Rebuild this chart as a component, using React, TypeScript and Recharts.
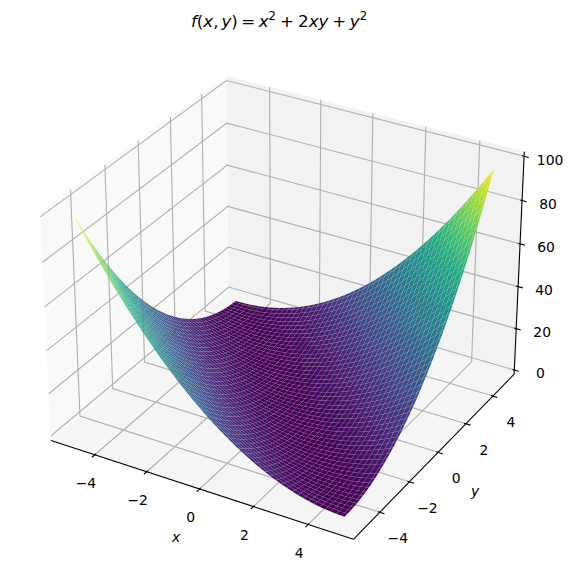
import { ScatterChart, Scatter, XAxis, YAxis } from "recharts";

// sample positions along both horizontal axes
const gridValues = [
  -5, -4.8, -4.6, -4.4, -4.2, -4, -3.8, -3.6, -3.4, -3.2, -3, -2.8, -2.6, -2.4, -2.2, -2, -1.8,
  -1.6, -1.4, -1.2, -1, -0.8, -0.6, -0.4, -0.2, 0, 0.2, 0.4, 0.6, 0.8, 1, 1.2, 1.4, 1.6, 1.8, 2,
  2.2, 2.4, 2.6, 2.8, 3, 3.2, 3.4, 3.6, 3.8, 4, 4.2, 4.4, 4.6, 4.8, 4.9,
];
// surface height for a grid step sum i + j (the surface only changes across the x + y diagonal)
const heightProfile = [
  100, 96.04, 92.16, 88.36, 84.64, 81, 77.44, 73.96, 70.56, 67.24, 64, 60.84, 57.76, 54.76, 51.84,
  49, 46.24, 43.56, 40.96, 38.44, 36, 33.64, 31.36, 29.16, 27.04, 25, 23.04, 21.16, 19.36, 17.64,
  16, 14.44, 12.96, 11.56, 10.24, 9, 7.84, 6.76, 5.76, 4.84, 4, 3.24, 2.56, 1.96, 1.44, 1, 0.64,
  0.36, 0.16, 0.04, 0, 0.04, 0.16, 0.36, 0.64, 1, 1.44, 1.96, 2.56, 3.24, 4, 4.84, 5.76, 6.76,
  7.84, 9, 10.24, 11.56, 12.96, 14.44, 16, 17.64, 19.36, 21.16, 23.04, 25, 27.04, 29.16, 31.36,
  33.64, 36, 38.44, 40.96, 43.56, 46.24, 49, 51.84, 54.76, 57.76, 60.84, 64, 67.24, 70.56, 73.96,
  77.44, 81, 84.64, 88.36, 92.16,
];
// heights along the last row and column, where the grid ends at 4.9
const edgeHeights = [
  0.01, 0.01, 0.09, 0.25, 0.49, 0.81, 1.21, 1.69, 2.25, 2.89, 3.61, 4.41, 5.29, 6.25, 7.29, 8.41,
  9.61, 10.89, 12.25, 13.69, 15.21, 16.81, 18.49, 20.25, 22.09, 24.01, 26.01, 28.09, 30.25, 32.49,
  34.81, 37.21, 39.69, 42.25, 44.89, 47.61, 50.41, 53.29, 56.25, 59.29, 62.41, 65.61, 68.89, 72.25,
  75.69, 79.21, 82.81, 86.49, 90.25, 94.09, 96.04,
];
const xTicks = [-4, -2, 0, 2, 4];
const yTicks = [-4, -2, 0, 2, 4];
const zTicks = [0, 20, 40, 60, 80, 100];
const xLimits = [-5.722, 5.622];
const yLimits = [-5.722, 5.622];
const zLimits = [-2.083, 102.083];
const viridis = [
  [68, 1, 84], [72, 36, 117], [65, 68, 135], [53, 95, 141], [42, 120, 142], [33, 145, 140],
  [34, 168, 132], [68, 191, 112], [122, 209, 81], [189, 223, 38], [253, 231, 37],
];

const FONT = "'DejaVu Sans', sans-serif";
const WIDTH = 574;
const HEIGHT = 584;
const ELEV = (30 * Math.PI) / 180;
const AZIM = (-60 * Math.PI) / 180;
const DIST = 10;
const BOX = [1.1905, 1.1905, 0.8929];
// where the box corners sit in the picture
const BOX_LEFT = 40;
const BOX_RIGHT = 524.3;
const BOX_TOP = 76;
const BOX_BOTTOM = 539.3;

type V3 = number[];
const sub = (a: V3, b: V3) => a.map((v, i) => v - b[i]);
const dot = (a: V3, b: V3) => a[0] * b[0] + a[1] * b[1] + a[2] * b[2];
const cross = (a: V3, b: V3) => [
  a[1] * b[2] - a[2] * b[1],
  a[2] * b[0] - a[0] * b[2],
  a[0] * b[1] - a[1] * b[0],
];
const unit = (a: V3) => {
  const n = Math.sqrt(dot(a, a));
  return a.map((v) => v / n);
};

const center = BOX.map((b) => b / 2);
const viewDir = [Math.cos(ELEV) * Math.cos(AZIM), Math.cos(ELEV) * Math.sin(AZIM), Math.sin(ELEV)];
const eye = center.map((c, i) => c + DIST * viewDir[i]);
const w = unit(viewDir);
const u = unit(cross([0, 0, 1], w));
const v = cross(w, u);

// same camera as a default 3D axes: elev 30, azim -60, box 4:4:3
function project(x: number, y: number, z: number) {
  const p = [
    ((x - xLimits[0]) / (xLimits[1] - xLimits[0])) * BOX[0],
    ((y - yLimits[0]) / (yLimits[1] - yLimits[0])) * BOX[1],
    ((z - zLimits[0]) / (zLimits[1] - zLimits[0])) * BOX[2],
  ];
  const d = sub(p, eye);
  const depth = dot(w, d);
  return { px: dot(u, d) / -depth, py: dot(v, d) / -depth, depth };
}

const [x0, x1] = xLimits;
const [y0, y1] = yLimits;
const [z0, z1] = zLimits;

const corners = [x0, x1].flatMap((x) => [y0, y1].flatMap((y) => [z0, z1].map((z) => project(x, y, z))));
const pxMin = Math.min(...corners.map((c) => c.px));
const pxMax = Math.max(...corners.map((c) => c.px));
const pyMin = Math.min(...corners.map((c) => c.py));
const pyMax = Math.max(...corners.map((c) => c.py));
// plot area is the whole picture, so the domain runs past the box
const perPixelX = (pxMax - pxMin) / (BOX_RIGHT - BOX_LEFT);
const perPixelY = (pyMax - pyMin) / (BOX_BOTTOM - BOX_TOP);
const pxDomain = [pxMin - BOX_LEFT * perPixelX, pxMax + (WIDTH - BOX_RIGHT) * perPixelX];
const pyDomain = [pyMin - (HEIGHT - BOX_BOTTOM) * perPixelY, pyMax + BOX_TOP * perPixelY];

// surface vertices and cells, cells sorted far to near
const n = gridValues.length;
const last = n - 1;
const heightAt = (i: number, j: number) =>
  i === last ? edgeHeights[j] : j === last ? edgeHeights[i] : heightProfile[i + j];
const vertices = gridValues.flatMap((x, i) =>
  gridValues.map((y, j) => ({ ...project(x, y, heightAt(i, j)), z: heightAt(i, j) }))
);
const rawCells: { ids: number[]; avg: number; depth: number }[] = [];
for (let i = 0; i < n - 1; i++) {
  for (let j = 0; j < n - 1; j++) {
    const ids = [i * n + j, (i + 1) * n + j, (i + 1) * n + j + 1, i * n + j + 1];
    rawCells.push({
      ids,
      avg: ids.reduce((s, k) => s + vertices[k].z, 0) / 4,
      depth: ids.reduce((s, k) => s + vertices[k].depth, 0) / 4,
    });
  }
}
const avgMin = Math.min(...rawCells.map((c) => c.avg));
const avgMax = Math.max(...rawCells.map((c) => c.avg));

function colorAt(t: number) {
  const s = Math.min(Math.max(t, 0), 1) * (viridis.length - 1);
  const a = Math.min(Math.floor(s), viridis.length - 2);
  const f = s - a;
  const c = viridis[a].map((val, i) => Math.round(val + (viridis[a + 1][i] - val) * f));
  return `rgb(${c[0]},${c[1]},${c[2]})`;
}

const cells = rawCells
  .map((c) => ({ ...c, fill: colorAt((c.avg - avgMin) / (avgMax - avgMin)) }))
  .sort((a, b) => a.depth - b.depth);

const renderSurface = (props: any) => (
  <g>
    {cells.map((c, i) => (
      <polygon
        key={i}
        points={c.ids.map((k) => `${props.points[k].x},${props.points[k].y}`).join(" ")}
        fill={c.fill}
        stroke="#fff"
        strokeOpacity={0.14}
        strokeWidth={0.4}
      />
    ))}
  </g>
);

const renderPane = (fill: string) => (props: any) =>
  <polygon points={props.points.map((p: any) => `${p.x},${p.y}`).join(" ")} fill={fill} />;

// splits the series points into polylines of a fixed length
const renderLines = (size: number, stroke: string, width: number) => (props: any) => {
  const parts = [];
  for (let i = 0; i < props.points.length; i += size) {
    parts.push(
      <polyline
        key={i}
        points={props.points.slice(i, i + size).map((p: any) => `${p.x},${p.y}`).join(" ")}
        fill="none"
        stroke={stroke}
        strokeWidth={width}
      />
    );
  }
  return <g>{parts}</g>;
};

const emptyShape = () => <g />;
const textShape = (dx: number, dy: number, italic = false) => (props: any) => (
  <text
    x={props.cx + dx}
    y={props.cy + dy}
    textAnchor="middle"
    dominantBaseline="central"
    fontFamily={FONT}
    fontSize={13.9}
    fontStyle={italic ? "italic" : "normal"}
    fill="#000"
  >
    {props.payload.label}
  </text>
);
const tickText = (t: number) => String(t).replace("-", "\u2212");

const paneX = [project(x0, y0, z0), project(x0, y1, z0), project(x0, y1, z1), project(x0, y0, z1)];
const paneY = [project(x0, y1, z0), project(x1, y1, z0), project(x1, y1, z1), project(x0, y1, z1)];
const paneZ = [project(x0, y0, z0), project(x1, y0, z0), project(x1, y1, z0), project(x0, y1, z0)];

const gridPoints = [
  ...xTicks.flatMap((t) => [project(t, y0, z0), project(t, y1, z0), project(t, y1, z1)]),
  ...yTicks.flatMap((t) => [project(x1, t, z0), project(x0, t, z0), project(x0, t, z1)]),
  ...zTicks.flatMap((t) => [project(x0, y0, t), project(x0, y1, t), project(x1, y1, t)]),
];
const axisPoints = [
  project(x0, y0, z0), project(x1, y0, z0),
  project(x1, y0, z0), project(x1, y1, z0),
  project(x1, y1, z0), project(x1, y1, z1),
];
const tickOut = (x1 - x0) * 0.015;
const tickIn = (x1 - x0) * 0.006;
const tickPoints = [
  ...xTicks.flatMap((t) => [project(t, y0 + tickIn, z0), project(t, y0 - tickOut, z0)]),
  ...yTicks.flatMap((t) => [project(x1 - tickIn, t, z0), project(x1 + tickOut, t, z0)]),
  ...zTicks.flatMap((t) => [project(x1 - tickIn, y1, t), project(x1 + tickOut, y1, t)]),
];
const xLabels = xTicks.map((t) => ({ ...project(t, y0, z0), label: tickText(t) }));
const yLabels = yTicks.map((t) => ({ ...project(x1, t, z0), label: tickText(t) }));
const zLabels = zTicks.map((t) => ({ ...project(x1, y1, t), label: tickText(t) }));

function series(data: any[], line: any, shape: any = emptyShape) {
  return (
    <Scatter data={data} line={line} shape={shape} isAnimationActive={false} legendType="none" />
  );
}

export default function App() {
  return (
    <div style={{ position: "absolute", left: 0, top: 0 }}>
      <ScatterChart
        width={WIDTH}
        height={HEIGHT}
        margin={{ top: 0, right: 0, bottom: 0, left: 0 }}
      >
        <XAxis type="number" dataKey="px" domain={pxDomain} allowDataOverflow hide />
        <YAxis type="number" dataKey="py" domain={pyDomain} allowDataOverflow hide />
        {series(paneX, renderPane("#f9f9f9"))}
        {series(paneY, renderPane("#f2f2f2"))}
        {series(paneZ, renderPane("#f5f5f5"))}
        {series(gridPoints, renderLines(3, "#b0b0b0", 1.11))}
        {series(axisPoints, renderLines(2, "#000", 1.11))}
        {series(tickPoints, renderLines(2, "#000", 1.11))}
        {series(vertices, renderSurface)}
        {series(xLabels, false, textShape(-9, 28))}
        {series(yLabels, false, textShape(18, 26))}
        {series(zLabels, false, textShape(26, 3.3))}
        {series([{ ...project(0, y0, z0), label: "x" }], false, textShape(-23.5, 48, true))}
        {series([{ ...project(x1, 0, z0), label: "y" }], false, textShape(37, 39, true))}
        <text x={279} y={27} textAnchor="middle" fontFamily={FONT} fontSize={16.67} fill="#000">
          <tspan fontStyle="italic">f</tspan>
          <tspan>(</tspan>
          <tspan fontStyle="italic">x</tspan>
          <tspan>,</tspan>
          <tspan fontStyle="italic" dx={3}>y</tspan>
          <tspan>)</tspan>
          <tspan dx={3.5}>=</tspan>
          <tspan fontStyle="italic" dx={3.5}>x</tspan>
          <tspan fontSize={11.7} dy={-7}>2</tspan>
          <tspan dx={4} dy={7}>+</tspan>
          <tspan dx={4}>2</tspan>
          <tspan fontStyle="italic">xy</tspan>
          <tspan dx={4}>+</tspan>
          <tspan fontStyle="italic" dx={3.5}>y</tspan>
          <tspan fontSize={11.7} dy={-7}>2</tspan>
        </text>
      </ScatterChart>
    </div>
  );
}
